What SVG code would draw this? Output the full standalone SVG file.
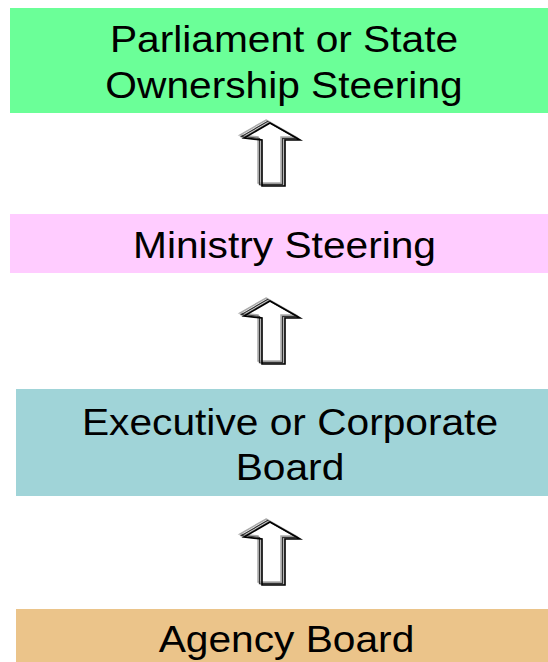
<svg xmlns="http://www.w3.org/2000/svg" xmlns:xlink="http://www.w3.org/1999/xlink" width="548" height="662" viewBox="0 0 548 662">
  <style>
    .label { font-family: "Liberation Sans", Arial, sans-serif; font-size: 37px; fill: #000; text-anchor: middle; }
    .arr { fill: none; stroke-linejoin: miter; }
  </style>
  <defs>
    <!-- hollow up arrow drawn as stacked offset outlines -->
    <g id="up-arrow">
      <path class="arr" d="M0,0 L30,17 L15,17 L15,63 L-8,63 L-8,17 L-26,15 Z" transform="translate(-4,-3)" stroke="#aaa" stroke-width="1.5"/>
      <path class="arr" d="M0,0 L30,17 L15,17 L15,63 L-8,63 L-8,17 L-26,15 Z" transform="translate(-2.5,-1.5)" stroke="#333" stroke-width="1.3"/>
      <path class="arr" d="M0,0 L30,17 L15,17 L15,63 L-8,63 L-8,17 L-26,15 Z" transform="translate(-1,-0.5)" stroke="#999" stroke-width="1.2"/>
      <path class="arr" d="M0,0 L30,17 L15,17 L15,63 L-8,63 L-8,17 L-26,15 Z" stroke="#000" stroke-width="1.6"/>
    </g>
  </defs>

  <rect width="548" height="662" fill="#fff"/>

  <g id="parliament">
    <rect x="10" y="8" width="538" height="105" fill="#6bff98"/>
    <text class="label" transform="matrix(1.1 0 0 1 284 52)">Parliament or State</text>
    <text class="label" transform="matrix(1.1 0 0 1 284 98)">Ownership Steering</text>
  </g>

  <g id="ministry">
    <rect x="10" y="214" width="538" height="59" fill="#ffccff"/>
    <text class="label" transform="matrix(1.1 0 0 1 284.5 258)">Ministry Steering</text>
  </g>

  <g id="executive">
    <rect x="16" y="389" width="532" height="107" fill="#a0d4d8"/>
    <text class="label" transform="matrix(1.1 0 0 1 290 435)">Executive or Corporate</text>
    <text class="label" transform="matrix(1.1 0 0 1 290 480)">Board</text>
  </g>

  <g id="agency">
    <rect x="16" y="609" width="532" height="53" fill="#ebc48a"/>
    <text class="label" transform="matrix(1.1 0 0 1 286.5 652)">Agency Board</text>
  </g>

  <g id="connectors">
    <use xlink:href="#up-arrow" transform="translate(270,123)"/>
    <use xlink:href="#up-arrow" transform="translate(270,301)"/>
    <use xlink:href="#up-arrow" transform="translate(270,522)"/>
  </g>
</svg>
